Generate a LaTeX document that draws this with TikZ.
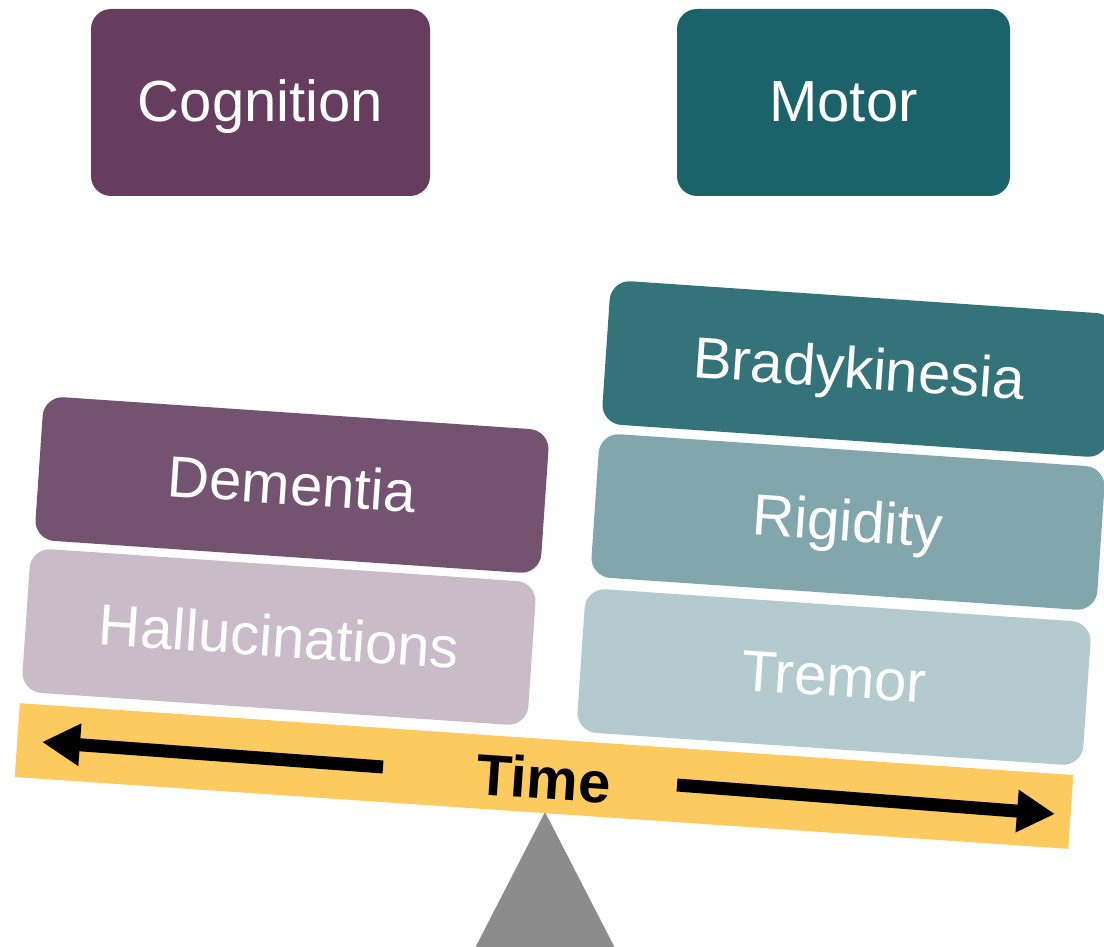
\documentclass[tikz,border=0pt]{standalone}
\usepackage{fontspec}
\setmainfont{Liberation Sans}
\usetikzlibrary{arrows.meta}
\definecolor{cogdark}{HTML}{673D5F}
\definecolor{motdark}{HTML}{1B626B}
\definecolor{dementiac}{HTML}{745371}
\definecolor{hallucc}{HTML}{C9BBC8}
\definecolor{bradyc}{HTML}{35737B}
\definecolor{rigidc}{HTML}{81A7AD}
\definecolor{tremorc}{HTML}{B3CACE}
\definecolor{beamc}{HTML}{FDCA60}
\definecolor{pivotc}{HTML}{8C8C8C}

\begin{document}
\begin{tikzpicture}[x=1pt,y=-1pt,
  catbox/.style={rectangle,rounded corners=20pt,text=white,font=\fontsize{58}{60}\selectfont,inner sep=0pt,text height=42pt,text depth=3pt},
  symptom/.style={catbox,minimum width=507pt,minimum height=144pt,rotate=-3.9},
  timearrow/.style={line width=13pt,-{Triangle[length=38pt,width=40pt]}}]
\useasboundingbox (0,0) rectangle (1104,947);

\node [catbox,fill=cogdark,minimum width=339pt,minimum height=187pt] (cog) at (260.5,102.5) {Cognition};
\node [catbox,fill=motdark,minimum width=333pt,minimum height=187pt] (mot) at (843.5,102.5) {Motor};

\node [symptom,fill=dementiac] (dem) at (292,485) {Dementia};
\node [symptom,fill=hallucc] (hal) at (279,637) {Hallucinations};
\node [symptom,fill=bradyc] (bra) at (859,369) {Bradykinesia};
\node [symptom,fill=rigidc] (rig) at (848,522) {Rigidity};
\node [symptom,fill=tremorc] (tre) at (834,677) {Tremor};

\fill [pivotc] (545,812) -- (616,950) -- (474,950) -- cycle;
\node [rectangle,fill=beamc,minimum width=1056pt,minimum height=74pt,rotate=-3.9] (beam) at (544,776) {};
\node [rotate=-3.9,font=\fontsize{58}{60}\selectfont\bfseries] (time) at (544,778) {Time};

\coordinate (ltail) at (383,767);
\coordinate (lhead) at (42,742);
\coordinate (rtail) at (677,785);
\coordinate (rhead) at (1055,814);
\draw [timearrow] (ltail) -- (lhead);
\draw [timearrow] (rtail) -- (rhead);
\end{tikzpicture}
\end{document}
